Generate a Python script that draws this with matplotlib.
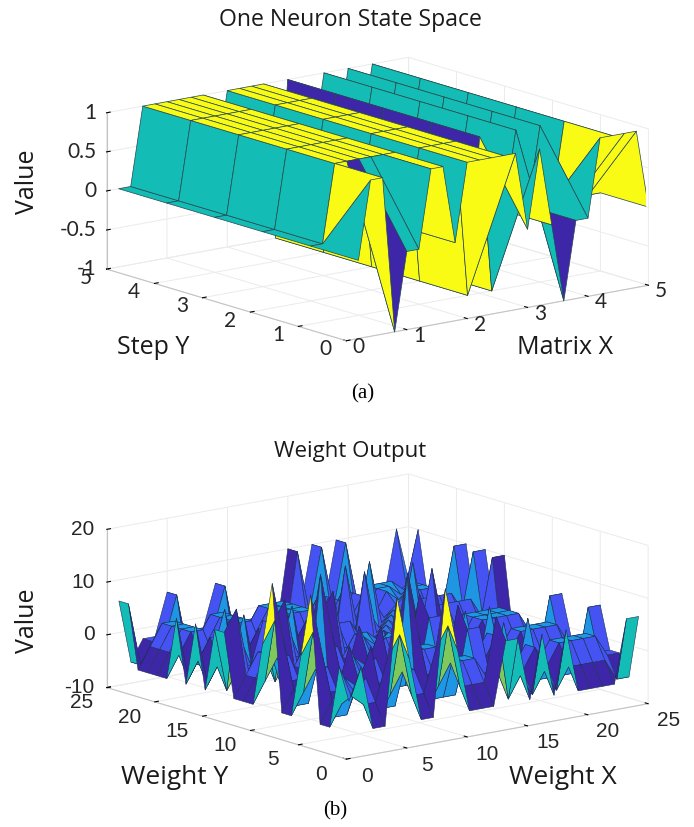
import numpy as np
import matplotlib
matplotlib.use("Agg")
import matplotlib.pyplot as plt
from matplotlib.colors import LinearSegmentedColormap, Normalize

W, H = 694, 827

# panel (a) values
matrix_x = [0.2, 0.4, 0.6, 0.8, 1.0, 1.2, 1.4, 1.6, 1.8, 2.0, 2.2, 2.4, 2.6,
            2.8, 3.0, 3.2, 3.4, 3.6, 3.8, 4.0, 4.2, 4.4, 4.6, 4.8, 5.0]
step_y = [0, 1, 2, 3, 4, 5]
state_first = [0, 1, 1, -1, 0, 0, 1, 1, 0, 1, 1, 1, 1,
               1, 0, 1, 0, -1, 0, 0, 1, 1, 1, 1, 0]
state_rest = [0, 0, 1, 1, 1, 1, 1, 1, 0, 1, 1, 1, 1,
              -1, 1, -1, 0, 1, 0, 1, 0, 1, 0, 0, 0]

# panel (b) values
weight_idx = list(range(1, 26))
weights = [
    [0, 6, -6, -6, 18, 6, -6, -6, 18, 6, -6, -6, -6, 6, 6, -6, 6, -6, 6, -6, -6, -6, -6, 6, 6],
    [6, 0, -2, -2, 6, 10, -2, -2, 6, 10, -2, -2, -2, 10, -6, -2, -6, -2, -6, -2, -2, -2, -2, -6, -6],
    [-6, -2, 0, 2, -6, -2, 2, 2, -6, -2, 2, 2, 2, -2, -2, 2, -2, 2, -2, 2, 2, 2, 2, -2, -2],
    [-6, -2, 2, 0, -6, -2, 2, 2, -6, -2, 2, 2, 2, -2, -2, 2, -2, 2, -2, 2, 2, 2, 2, -2, -2],
    [18, 6, -6, -6, 0, 6, -6, -6, 18, 6, -6, -6, -6, 6, 6, -6, 6, -6, 6, -6, -6, -6, -6, 6, 6],
    [6, 10, -2, -2, 6, 0, -2, -2, 6, 10, -2, -2, -2, 10, -6, -2, -6, -2, -6, -2, -2, -2, -2, -6, -6],
    [-6, -2, 2, 2, -6, -2, 0, 2, -6, -2, 2, 2, 2, -2, -2, 2, -2, 2, -2, 2, 2, 2, 2, -2, -2],
    [-6, -2, 2, 2, -6, -2, 2, 0, -6, -2, 2, 2, 2, -2, -2, 2, -2, 2, -2, 2, 2, 2, 2, -2, -2],
    [18, 6, -6, -6, 18, 6, -6, -6, 0, 6, -6, -6, -6, 6, 6, -6, 6, -6, 6, -6, -6, -6, -6, 6, 6],
    [6, 10, -2, -2, 6, 10, -2, -2, 6, 0, -2, -2, -2, 10, -6, -2, -6, -2, -6, -2, -2, -2, -2, -6, -6],
    [-6, -2, 2, 2, -6, -2, 2, 2, -6, -2, 0, 2, 2, -2, -2, 2, -2, 2, -2, 2, 2, 2, 2, -2, -2],
    [-6, -2, 2, 2, -6, -2, 2, 2, -6, -2, 2, 0, 2, -2, -2, 2, -2, 2, -2, 2, 2, 2, 2, -2, -2],
    [-6, -2, 2, 2, -6, -2, 2, 2, -6, -2, 2, 2, 0, -2, -2, 2, -2, 2, -2, 2, 2, 2, 2, -2, -2],
    [6, 10, -2, -2, 6, 10, -2, -2, 6, 10, -2, -2, -2, 0, -6, -2, -6, -2, -6, -2, -2, -2, -2, -6, -6],
    [6, -6, -2, -2, 6, -6, -2, -2, 6, -6, -2, -2, -2, -6, 0, -2, 10, -2, 10, -2, -2, -2, -2, 10, 10],
    [-6, -2, 2, 2, -6, -2, 2, 2, -6, -2, 2, 2, 2, -2, -2, 0, -2, 2, -2, 2, 2, 2, 2, -2, -2],
    [6, -6, -2, -2, 6, -6, -2, -2, 6, -6, -2, -2, -2, -6, 10, -2, 0, -2, 10, -2, -2, -2, -2, 10, 10],
    [-6, -2, 2, 2, -6, -2, 2, 2, -6, -2, 2, 2, 2, -2, -2, 2, -2, 0, -2, 2, 2, 2, 2, -2, -2],
    [6, -6, -2, -2, 6, -6, -2, -2, 6, -6, -2, -2, -2, -6, 10, -2, 10, -2, 0, -2, -2, -2, -2, 10, 10],
    [-6, -2, 2, 2, -6, -2, 2, 2, -6, -2, 2, 2, 2, -2, -2, 2, -2, 2, -2, 0, 2, 2, 2, -2, -2],
    [-6, -2, 2, 2, -6, -2, 2, 2, -6, -2, 2, 2, 2, -2, -2, 2, -2, 2, -2, 2, 0, 2, 2, -2, -2],
    [-6, -2, 2, 2, -6, -2, 2, 2, -6, -2, 2, 2, 2, -2, -2, 2, -2, 2, -2, 2, 2, 0, 2, -2, -2],
    [-6, -2, 2, 2, -6, -2, 2, 2, -6, -2, 2, 2, 2, -2, -2, 2, -2, 2, -2, 2, 2, 2, 0, -2, -2],
    [6, -6, -2, -2, 6, -6, -2, -2, 6, -6, -2, -2, -2, -6, 10, -2, 10, -2, 10, -2, -2, -2, -2, 0, 10],
    [6, -6, -2, -2, 6, -6, -2, -2, 6, -6, -2, -2, -2, -6, 10, -2, 10, -2, 10, -2, -2, -2, -2, 10, 0],
]

parula = LinearSegmentedColormap.from_list(
    "parula", ["#3e26a8", "#4454f2", "#1f96e4", "#12bcb6", "#7dc95c", "#d8c43a", "#f9fb15"])


# axes square given by its centre in reference pixels
def make_axes(cx, cy, size):
    ax = fig.add_axes([(cx - size / 2) / W, 1 - (cy + size / 2) / H, size / W, size / H],
                      projection="3d", proj_type="ortho")
    ax.patch.set_alpha(0)
    ax.view_init(elev=13.54, azim=-128.1)
    return ax


def style_axes(ax, xt, yt, zt):
    ax.set_xticks(xt)
    ax.set_yticks(yt)
    ax.set_zticks(zt)
    for a in (ax.xaxis, ax.yaxis, ax.zaxis):
        a.set_tick_params(label1On=False)
        a.set_pane_color((1, 1, 1, 0))
        a.pane.set_edgecolor("#e6e6e6")
        a.line.set_color("#c4c4c4")
        a.line.set_linewidth(0.8)
        a._axinfo["grid"]["color"] = "#ebebeb"
        a._axinfo["grid"]["linewidth"] = 0.7
        a._axinfo["tick"]["color"] = "#c4c4c4"
        a._axinfo["tick"]["inward_factor"] = 0.0
        a._axinfo["tick"]["outward_factor"] = 0.15


def px_text(x, y, s, **kw):
    fig.text(x / W, 1 - y / H, s, ha="center", va="center", **kw)


fig = plt.figure(figsize=(W / 100, H / 100), dpi=100)

# panel a
ax1 = make_axes(370, 206.5, 552.8)
X1, Y1 = np.meshgrid(matrix_x, step_y)
Z1 = np.array([state_first] + [state_rest] * 5, dtype=float)
norm1 = Normalize(-1, 1)
ax1.plot_surface(X1, Y1, Z1, rstride=1, cstride=1, facecolors=parula(norm1(Z1)), shade=False,
                 edgecolor="#24474f", linewidth=0.5)
ax1.set_xlim(0, 5, view_margin=0)
ax1.set_ylim(0, 5, view_margin=0)
ax1.set_zlim(-1, 1, view_margin=0)
ax1.set_box_aspect((380.5, 385.3, 159.4))
style_axes(ax1, [0, 1, 2, 3, 4, 5], [0, 1, 2, 3, 4, 5], [-1, -0.5, 0, 0.5, 1])

tick_a = dict(family="Lato", fontsize=15, color="#262626", ha="center", va="center")
for k in [0, 1, 2, 3, 4, 5]:
    ax1.text(k, -0.26, -1.03, str(k), **tick_a)
    ax1.text(-0.34, k, -1.06, str(k), **tick_a)
for v, s in zip([-1, -0.5, 0, 0.5, 1], ["-1", "-0.5", "0", "0.5", "1"]):
    ax1.text(-0.17, 5, v + 0.02, s, family="Lato", fontsize=15, color="#262626", ha="right", va="center")

# panel b
ax2 = make_axes(370, 624, 552.8)
X2, Y2 = np.meshgrid(weight_idx, weight_idx)
Z2 = np.array(weights, dtype=float)
norm2 = Normalize(-6, 18)
ax2.plot_surface(X2, Y2, Z2, rstride=1, cstride=1, facecolors=parula(norm2(Z2)), shade=False,
                 edgecolor="#1d2f55", linewidth=0.4)
ax2.set_xlim(0, 25, view_margin=0)
ax2.set_ylim(0, 25, view_margin=0)
ax2.set_zlim(-10, 20, view_margin=0)
ax2.set_box_aspect((380.5, 385.3, 161.5))
style_axes(ax2, [0, 5, 10, 15, 20, 25], [0, 5, 10, 15, 20, 25], [-10, 0, 10, 20])

tick_b = dict(family="Liberation Sans", fontsize=15, color="#262626", ha="center", va="center")
for k in [0, 5, 10, 15, 20, 25]:
    ax2.text(k, -2.1, -12.1, str(k), **tick_b)
    ax2.text(-2.1, k, -12.0, str(k), **tick_b)
for v in [-10, 0, 10, 20]:
    ax2.text(-1, 25, v + 0.4, str(v), family="Liberation Sans", fontsize=15, color="#262626",
             ha="right", va="center")

label = dict(family="Open Sans", color="#1a1a1a")
px_text(350, 20, "One Neuron State Space", fontsize=16.6, **label)
px_text(350, 451, "Weight Output", fontsize=16, **label)
px_text(27, 182, "Value", fontsize=18, rotation=90, **label)
px_text(27, 621, "Value", fontsize=18, rotation=90, **label)
px_text(153, 348, "Step Y", fontsize=18, **label)
px_text(565, 347, "Matrix X", fontsize=18, **label)
px_text(175, 777, "Weight Y", fontsize=19, **label)
px_text(563, 777, "Weight X", fontsize=19, **label)
px_text(363, 394, "(a)", family="Liberation Serif", fontsize=15, color="black")
px_text(335, 811, "(b)", family="Liberation Serif", fontsize=15, color="black")

fig.savefig("out.png", dpi=100)
